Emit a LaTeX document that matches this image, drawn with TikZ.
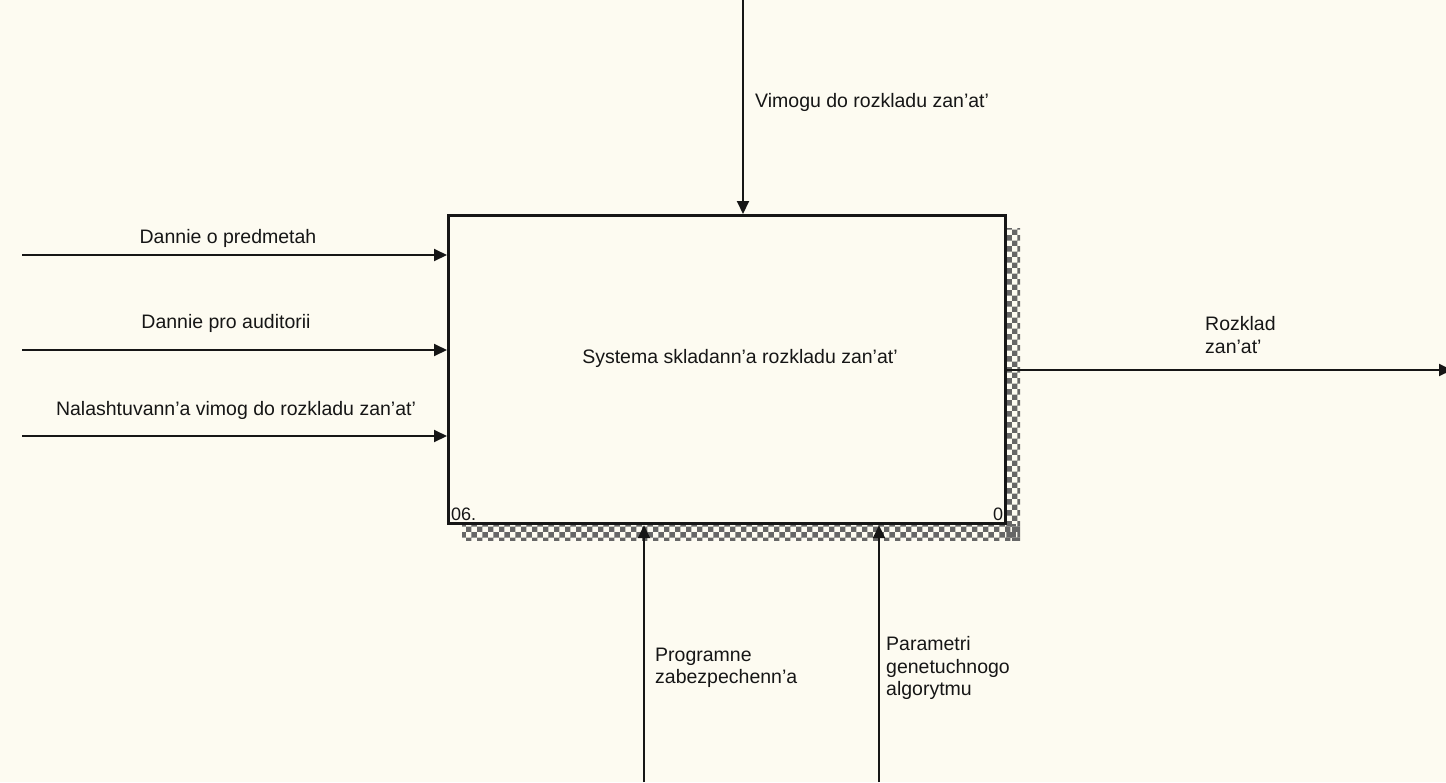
\documentclass[tikz,border=0pt]{standalone}
\usepackage{fontspec}
\setmainfont{Liberation Sans}
\usetikzlibrary{arrows.meta,patterns}
\definecolor{paper}{RGB}{253,251,241}
\definecolor{ink}{RGB}{22,22,22}
\begin{document}
\begin{tikzpicture}[x=1pt,y=-1pt,
  lbl/.style={font=\fontsize{19.5}{22.5}\selectfont, text=ink, inner sep=0pt},
  lblL/.style={lbl, anchor=west, align=left},
  flow/.style={draw=ink, line width=2pt, -{Triangle[length=13pt,width=12pt]}},
  shade/.style={pattern=checkerboard, pattern color=black!60, draw=none}]
  % page
  \fill[paper] (0,0) rectangle (1446,782);
  \useasboundingbox (0,0) rectangle (1446,782);

  % drop shadow of the activity box
  \fill[shade] (1006,228) rectangle (1020,540);
  \fill[shade] (462,524) rectangle (1020,540);

  % activity box
  \node[draw=ink, line width=3.2pt, fill=paper, minimum width=557pt, minimum height=308pt,
        inner sep=0pt, anchor=north west] (A0) at (447,214) {};
  \node[lbl] (title) at (740,358) {Systema skladann’a rozkladu zan’at’};
  \node[lbl, anchor=south west, font=\fontsize{18}{20}\selectfont] (node) at ([shift={(4,-4)}]A0.south west) {06.};
  \node[lbl, anchor=south east, font=\fontsize{18}{20}\selectfont] (num) at ([shift={(-4,-4)}]A0.south east) {0};

  % control (top)
  \coordinate (cT) at (743,0);
  \draw[flow] (cT) -- (cT |- A0.north);
  \node[lblL] (lT) at (755,102) {Vimogu do rozkladu zan’at’};

  % inputs (left)
  \coordinate (i1) at (22,255);
  \coordinate (i2) at (22,350);
  \coordinate (i3) at (22,436);
  \draw[flow] (i1) -- (i1 -| A0.west);
  \draw[flow] (i2) -- (i2 -| A0.west);
  \draw[flow] (i3) -- (i3 -| A0.west);
  \node[lbl] (l1) at (228,238) {Dannie o predmetah};
  \node[lbl] (l2) at (226,323) {Dannie pro auditorii};
  \node[lbl] (l3) at (236,410) {Nalashtuvann’a vimog do rozkladu zan’at’};

  % output (right)
  \coordinate (o1) at (1452,370);
  \draw[flow] (o1 -| A0.east) -- (o1);
  \node[lblL] (lo) at (1205,335) {Rozklad\\zan’at’};

  % mechanisms (bottom)
  \coordinate (m1) at (644,782);
  \coordinate (m2) at (879,782);
  \draw[flow] (m1) -- (m1 |- A0.south);
  \draw[flow] (m2) -- (m2 |- A0.south);
  \node[lblL] (lm1) at (655,668) {Programne\\zabezpechenn’a};
  \node[lblL] (lm2) at (886,668) {Parametri\\genetuchnogo\\algorytmu};
\end{tikzpicture}
\end{document}
